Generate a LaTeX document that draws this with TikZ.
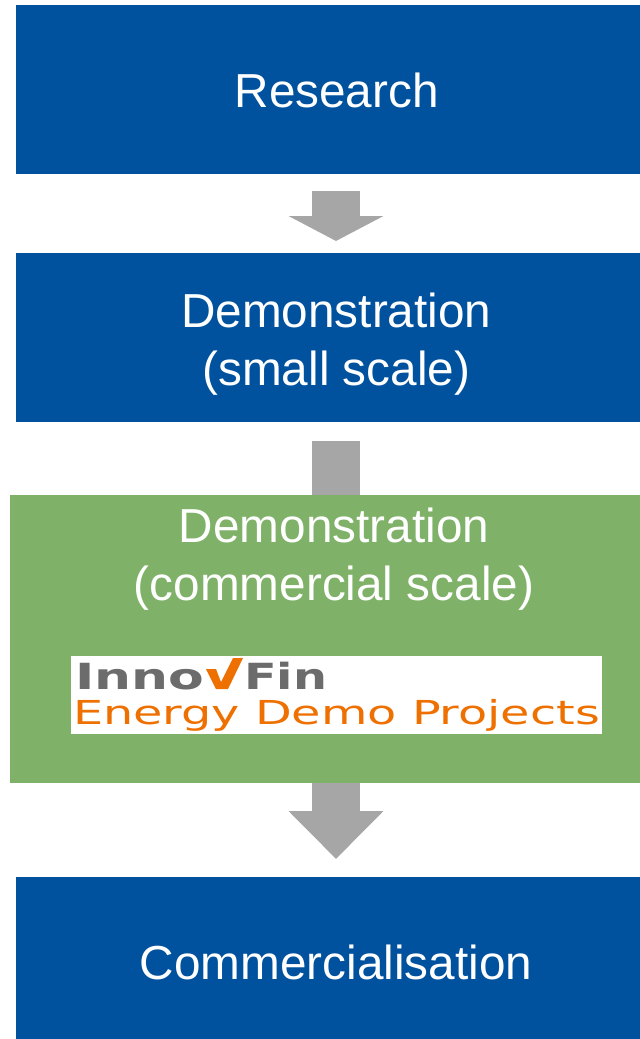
\documentclass[tikz,border=0pt]{standalone}
\usepackage{fontspec}
\usepackage{graphicx}
\setmainfont{Liberation Sans}
\usetikzlibrary{arrows.meta,positioning}
\definecolor{stageblue}{RGB}{0,81,158}
\definecolor{stagegreen}{RGB}{127,178,104}
\definecolor{arrowgray}{RGB}{166,166,166}
\definecolor{logogray}{RGB}{108,108,108}
\definecolor{logoorange}{RGB}{238,112,0}
\newfontfamily\logofont{DejaVu Sans}
\tikzset{
    stage/.style={fill=stageblue,minimum width=640pt,minimum height=169pt,
        inner sep=0pt,outer sep=0pt},
    stagetext/.style={text=white,inner sep=0pt,align=center,font=\fontsize{47.7}{58}\selectfont},
    flow/.style={draw=arrowgray,line width=48pt,
        -{Triangle[length=25pt,width=94pt,fill=arrowgray]}},
    flowlong/.style={draw=arrowgray,line width=48pt,
        -{Triangle[length=48pt,width=92pt,fill=arrowgray]}},
    logotext/.style={inner sep=0pt,outer sep=0pt,anchor=base west}
}
\begin{document}
\begin{tikzpicture}[x=1pt,y=-1pt]
    \useasboundingbox (0,0) rectangle (640,1039);
    \clip (0,0) rectangle (640,1039);
    \node[stage] (research) at (336,89.5) {};
    \node[stagetext] (researchlabel) at (336.7,90.5) {Research};
    \node[stage] (small) at (336,337.5) {};
    \node[stagetext] (smalllabel) at (336.3,344.5) {Demonstration\\(small scale)};
    \node[stage] (final) at (336,961.5) {};
    \node[stagetext] (finallabel) at (336,962.5) {Commercialisation};
    \coordinate (shaftstart) at (336,441);
    \draw[draw=arrowgray,line width=48pt] (shaftstart) -- (336,500);
    \node[fill=stagegreen,minimum width=652pt,minimum height=288pt,inner sep=0pt,outer sep=0pt] (scale) at (336,639) {};
    \node[stagetext,below=0pt of scale.north,yshift=-13pt,xshift=-2pt] (scalelabel) {Demonstration\\(commercial scale)};
    \node[fill=white,minimum width=531pt,minimum height=78pt,inner sep=0pt,outer sep=0pt] (logo) at (336.5,695) {};
    \node[logotext,text=logogray] (inno) at (75,689) {\resizebox{129pt}{\height}{\fontsize{36}{36}\logofont\bfseries Inno}};
    \node[logotext,text=logogray] (fin) at (244,689) {\resizebox{83pt}{\height}{\fontsize{36}{36}\logofont\bfseries Fin}};
    \fill[logoorange] (206,669) -- (216,669) -- (221,682) -- (233,658) -- (243,658) -- (228,689) -- (216,689) -- cycle;
    \node[logotext,text=logoorange] (energy) at (73,724) {\resizebox{527pt}{\height}{\fontsize{33}{33}\logofont Energy Demo Projects}};
    \draw[flow] ([yshift=-17pt]research.south) -- ([yshift=12pt]small.north);
    \draw[flowlong] (scale.south -| final.north) -- ([yshift=18pt]final.north);
\end{tikzpicture}
\end{document}
